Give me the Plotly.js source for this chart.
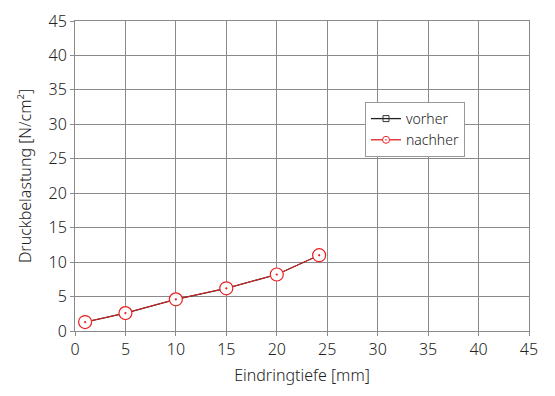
<!DOCTYPE html>
<html><head><meta charset="utf-8">
<script src="https://cdn.plot.ly/plotly-3.0.1.min.js"></script>
<style>body{margin:0;background:#fff}#c{width:555px;height:396px}</style>
</head><body><div id="c"></div>
<script>
const depth = [1, 5, 10, 15, 20, 24.2];
const vorher = [1.3, 2.6, 4.6, 6.2, 8.2, 11.0];
const nachher = [1.3, 2.6, 4.6, 6.2, 8.2, 11.0];
const ticks = [0,5,10,15,20,25,30,35,40,45];
const traces = [
  {x: depth, y: vorher, name: 'vorher', mode: 'lines+markers', type: 'scatter', showlegend: false,
   line: {color: '#222', width: 1.3},
   marker: {symbol: 'square-open', size: 7, color: '#333', line: {width: 1}}},
  {x: depth, y: nachher, name: 'nachher', mode: 'lines+markers', type: 'scatter', showlegend: false,
   line: {color: '#e02020', width: 1},
   marker: {symbol: 'circle-dot', size: 13, color: '#ffffff', line: {width: 1.2, color: '#e82020'}}},
  {x: [null], y: [null], name: 'vorher', mode: 'lines+markers', type: 'scatter',
   line: {color: '#222', width: 1.3},
   marker: {symbol: 'square-open', size: 6, color: '#333', line: {width: 1}}},
  {x: [null], y: [null], name: 'nachher', mode: 'lines+markers', type: 'scatter',
   line: {color: '#e02020', width: 1.3},
   marker: {symbol: 'circle-dot', size: 7, color: '#ffffff', line: {width: 1, color: '#e82020'}}}
];
const ax = {range: [0, 45], tickvals: ticks, showgrid: true, gridcolor: '#8a8a8a', gridwidth: 1,
  zeroline: false, showline: true, linecolor: '#8a8a8a', mirror: true, ticks: 'outside', ticklen: 4,
  tickcolor: '#8a8a8a', tickfont: {size: 16, color: '#222'}};
const layout = {
  width: 555, height: 396, margin: {l: 75, r: 26, t: 21, b: 65},
  paper_bgcolor: '#fff', plot_bgcolor: '#fff',
  font: {family: 'Noto Sans, sans-serif', color: '#222', weight: 300},
  xaxis: Object.assign({}, ax, {title: {text: 'Eindringtiefe [mm]', font: {size: 16}, standoff: 10}}),
  yaxis: Object.assign({}, ax, {title: {text: 'Druckbelastung [N/cm²]', font: {size: 16}, standoff: 12}}),
  showlegend: true,
  legend: {xref: 'paper', xanchor: 'left', yanchor: 'top', itemwidth: 30,
    bgcolor: '#fff', bordercolor: '#999', borderwidth: 1, font: {size: 14}, tracegroupgap: 0}
};
layout.legend.x = (365-75)/(529-75);
layout.legend.y = (331-102)/(331-21);
Plotly.newPlot('c', traces, layout, {displayModeBar: false, staticPlot: true});
</script></body></html>
